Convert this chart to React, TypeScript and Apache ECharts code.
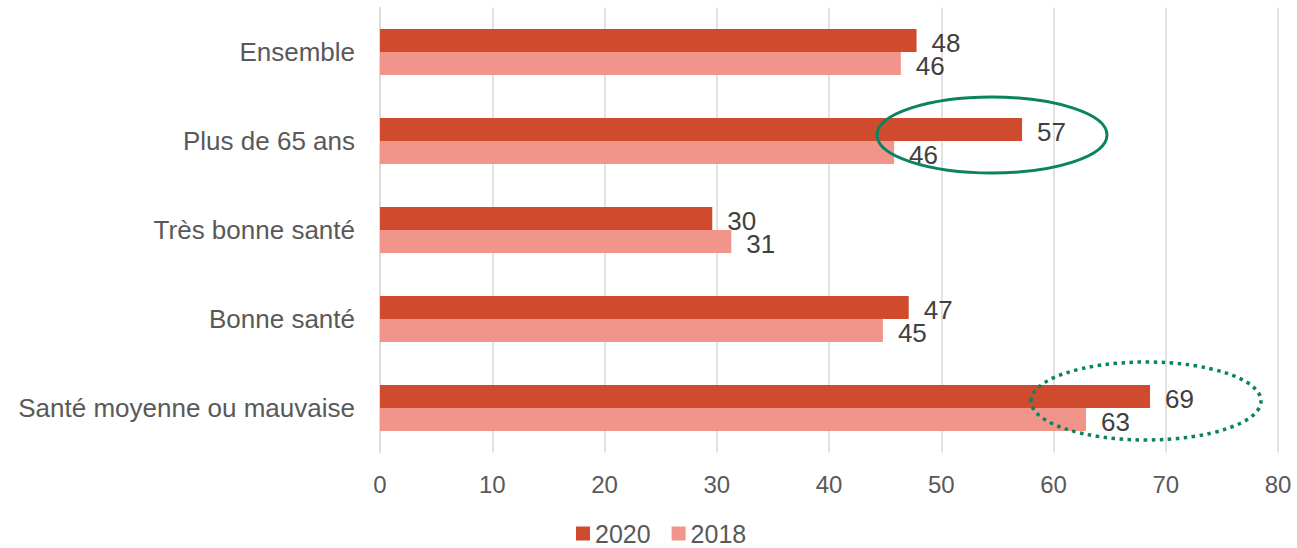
import React, { useEffect, useRef } from "react";
import * as echarts from "echarts";

const categories = [
  "Ensemble",
  "Plus de 65 ans",
  "Très bonne santé",
  "Bonne santé",
  "Santé moyenne ou mauvaise",
];
const values2020 = [47.8, 57.2, 29.6, 47.1, 68.6];
const values2018 = [46.4, 45.8, 31.3, 44.8, 62.9];
const seriesNames = ["2020", "2018"];

const FONT = "'Liberation Sans', Arial, sans-serif";

export default function App() {
  const ref = useRef<HTMLDivElement>(null);
  useEffect(() => {
    if (!ref.current) return;
    const chart = echarts.init(ref.current, undefined, { renderer: "svg" });
    const label = {
      show: true,
      position: "right",
      distance: 15,
      offset: [0, 2],
      color: "#404040",
      fontSize: 26,
      lineHeight: 22,
      fontFamily: FONT,
      formatter: (p: any) => String(Math.round(p.value)),
    };
    chart.setOption({
      animation: false,
      textStyle: { fontFamily: FONT },
      grid: { left: 380, right: 19, top: 7.5, height: 445, containLabel: false },
      legend: {
        left: 576,
        top: 521,
        padding: 0,
        icon: "rect",
        itemWidth: 14,
        itemHeight: 14,
        itemGap: 21,
        textStyle: { fontSize: 25, lineHeight: 24, color: "#595959", fontFamily: FONT },
        data: seriesNames,
      },
      xAxis: {
        type: "value",
        min: 0,
        max: 80,
        interval: 10,
        axisLine: { show: false },
        axisTick: { show: false },
        splitLine: { lineStyle: { color: "#d9d9d9", width: 1.5 } },
        axisLabel: { color: "#595959", fontSize: 24, margin: 20, fontFamily: FONT },
      },
      yAxis: {
        type: "category",
        inverse: true,
        data: categories,
        axisLine: { show: true, lineStyle: { color: "#d9d9d9", width: 1.5 } },
        axisTick: { show: false },
        axisLabel: { color: "#595959", fontSize: 26, margin: 25, fontFamily: FONT },
      },
      series: [
        {
          name: seriesNames[0],
          type: "bar",
          data: values2020,
          barWidth: 23,
          barGap: "0%",
          itemStyle: { color: "#d04a2d" },
          label,
        },
        {
          name: seriesNames[1],
          type: "bar",
          data: values2018,
          barWidth: 23,
          barGap: "0%",
          itemStyle: { color: "#f1958b" },
          label,
        },
      ],
      graphic: [
        {
          type: "ellipse",
          z: 100,
          shape: { cx: 992, cy: 135, rx: 115, ry: 38 },
          style: { fill: "none", stroke: "#0b8260", lineWidth: 3 },
        },
        {
          type: "ellipse",
          z: 100,
          shape: { cx: 1146, cy: 401, rx: 115, ry: 39 },
          style: { fill: "none", stroke: "#0b8260", lineWidth: 3.5, lineDash: [3.5, 4.5] },
        },
      ],
    });
    return () => chart.dispose();
  }, []);
  return (
    <div
      ref={ref}
      style={{ position: "absolute", left: 0, top: 0, width: 1297, height: 548 }}
    />
  );
}
